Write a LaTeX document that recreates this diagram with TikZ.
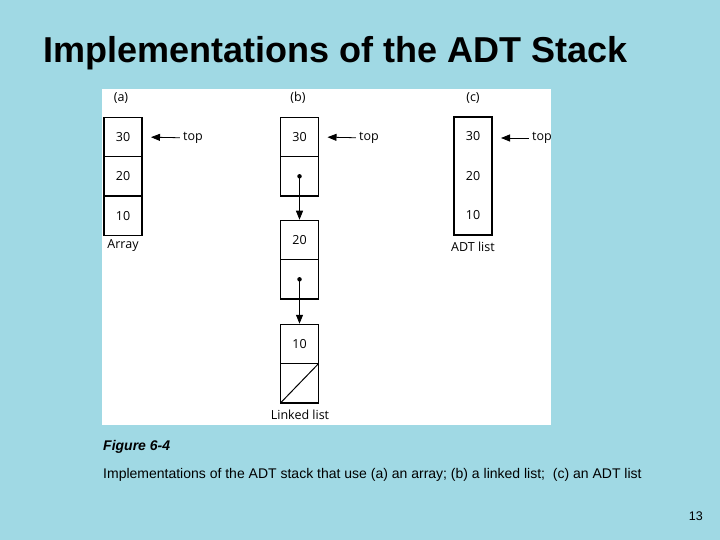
\documentclass[tikz,border=0pt]{standalone}
\usepackage{fontspec}
\setmainfont{Liberation Sans}
\newfontfamily\figfont{Open Sans}
\usepackage{xcolor}
\usetikzlibrary{
  arrows.meta,
  positioning,
}
\definecolor{slidebg}{RGB}{160,217,228}

\begin{document}
\begin{tikzpicture}[
  x=1pt, y=-1pt,
  every node/.style={font=\figfont\fontsize{12.5}{14}\selectfont, inner sep=1pt},
  cell/.style={
    rectangle, draw, line width=1.3pt, outer sep=0pt,
    minimum width=38pt, minimum height=39.3pt, inner sep=0pt,
  },
  tall/.style={
    rectangle, draw, line width=1.3pt, outer sep=0pt,
    minimum width=38pt, minimum height=118pt, inner sep=0pt,
  },
  dot/.style={circle, fill, inner sep=0pt, minimum size=4.5pt},
  ptr/.style={-{Triangle[length=9pt,width=7pt]}, line width=0.8pt},
]
  % slide background and figure panel
  \useasboundingbox[fill=slidebg] (0,0) rectangle (720,540);
  \fill[white] (102,89) rectangle (551,425);

  % title
  \node[anchor=base west, font=\bfseries\fontsize{36}{40}\selectfont, inner sep=0pt]
    (title) at (43,63) {Implementations of the ADT Stack};

  % (a) array
  \node (laba) at (121,98) {(a)};
  \node[cell] (a30) at (123,137) {30};
  \node[cell, below=0pt of a30] (a20) {20};
  \node[cell, below=0pt of a20] (a10) {10};
  \node (arr) at (123,246) {Array};
  \node[inner sep=3pt] (topa) at (193,138) {top};
  \draw[ptr, shorten >=9pt] (topa) -- (a30.east);

  % (b) linked list
  \node (labb) at (298,98) {(b)};
  \node[cell] (b30) at (299.5,137) {30};
  \node[cell, below=0pt of b30] (b30p) {};
  \node[dot] (d1) at (b30p.center) {};
  \node[cell] (b20) at (299.5,240) {20};
  \node[cell, below=0pt of b20] (b20p) {};
  \node[dot] (d2) at (b20p.center) {};
  \node[cell] (b10) at (299.5,344) {10};
  \node[cell, below=0pt of b10] (bnil) {};
  \draw[line width=1pt] (bnil.south west) -- (bnil.north east);
  \node (ll) at (300,415) {Linked list};
  \node[inner sep=3pt] (topb) at (369,138) {top};
  \draw[ptr, shorten >=9pt] (topb) -- (b30.east);
  \draw[ptr, shorten >=0.6pt] (d1.center) -- (b20.north);
  \draw[ptr, shorten >=0.6pt] (d2.center) -- (b10.north);

  % (c) ADT list
  \node (labc) at (473,98) {(c)};
  \node[tall] (clist) at (473,176) {};
  \node (c30) at (473,136) {30};
  \node (c20) at (473,176) {20};
  \node (c10) at (473,215) {10};
  \node (adt) at (473,247) {ADT list};
  \node[inner sep=3pt] (topc) at (542,138) {top};
  \draw[ptr, shorten >=9pt] (topc) -- (clist.east |- topc);

  % caption
  \node[anchor=west, inner sep=0pt, font=\bfseries\itshape\fontsize{14}{16}\selectfont]
    (fig) at (103,447) {Figure 6-4};
  \node[anchor=west, inner sep=0pt, font=\fontsize{14}{16}\selectfont]
    (cap) at (103,475) {Implementations of the ADT stack that use (a) an array; (b) a linked list;\ \ (c) an ADT list};
  \node[anchor=east, inner sep=0pt, font=\fontsize{12.5}{14}\selectfont]
    (pg) at (703,516) {13};
\end{tikzpicture}
\end{document}
